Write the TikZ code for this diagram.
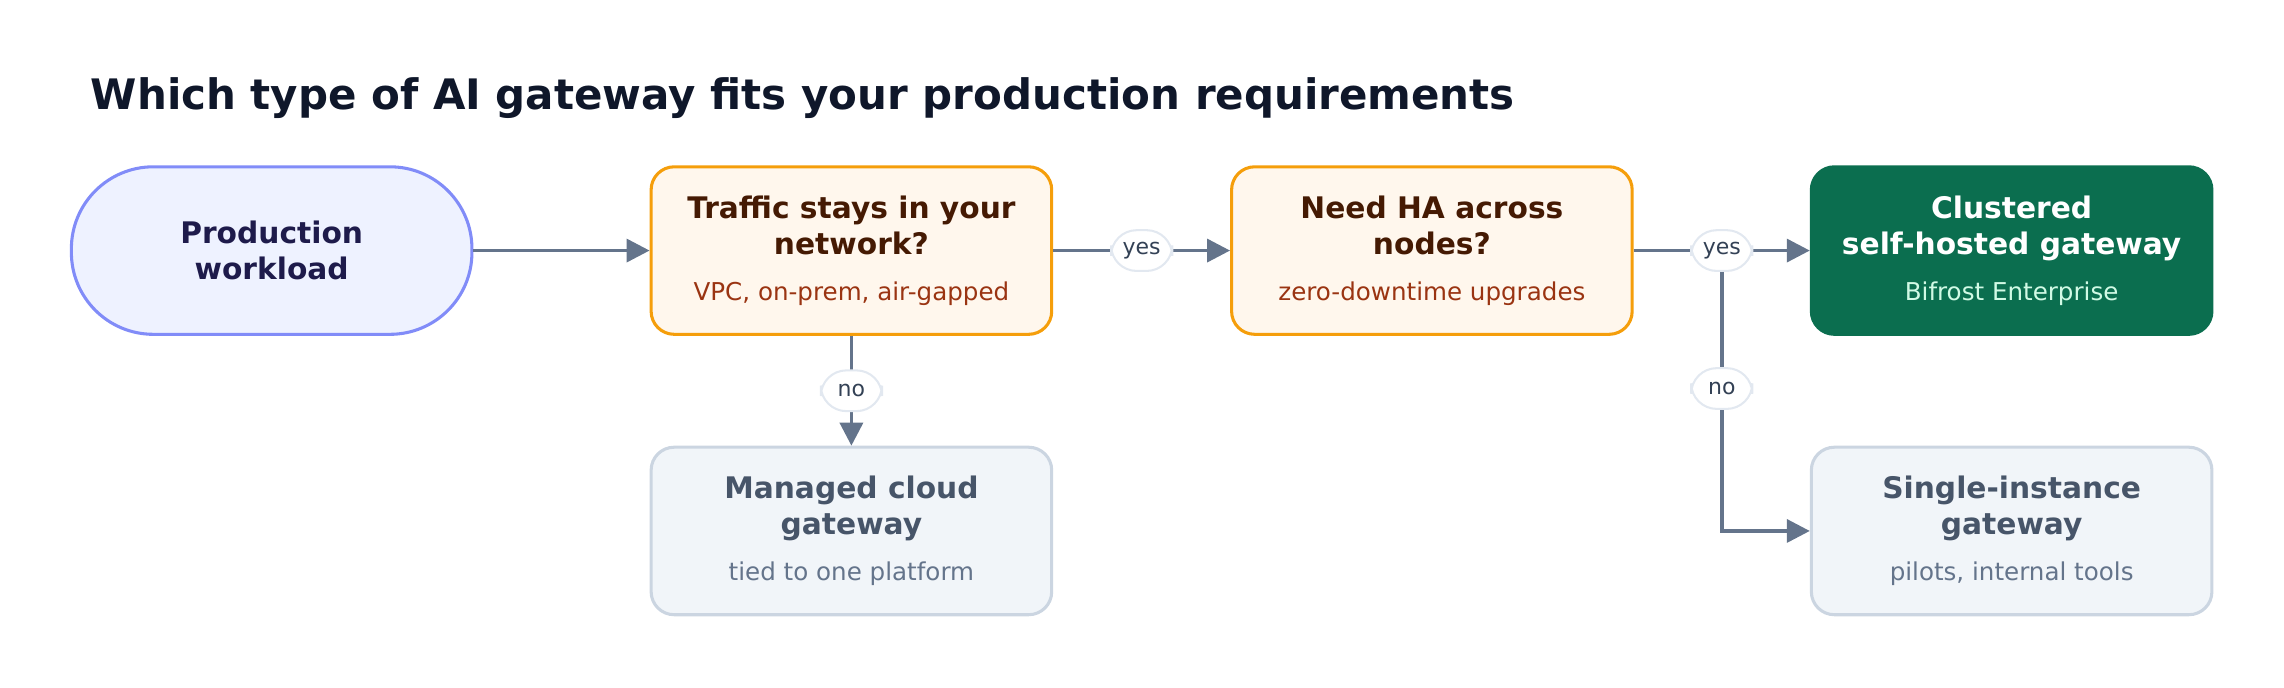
\documentclass[tikz,border=0pt]{standalone}
\usepackage{fontspec}
\setmainfont{DejaVu Sans}
\usetikzlibrary{positioning,arrows.meta}
\definecolor{edgegray}{HTML}{64748B}
\definecolor{startfill}{HTML}{EEF2FF}
\definecolor{startline}{HTML}{818CF8}
\definecolor{starttext}{HTML}{1E1B4B}
\definecolor{askfill}{HTML}{FFF7ED}
\definecolor{askline}{HTML}{F59E0B}
\definecolor{asktext}{HTML}{451A03}
\definecolor{asksub}{HTML}{9A3412}
\definecolor{winfill}{HTML}{0B6E4F}
\definecolor{winsub}{HTML}{D1FAE5}
\definecolor{altfill}{HTML}{F1F5F9}
\definecolor{altline}{HTML}{CBD5E1}
\definecolor{alttext}{HTML}{475569}
\definecolor{pillline}{HTML}{E2E8F0}
\definecolor{pilltext}{HTML}{334155}
\definecolor{titletext}{HTML}{0F172A}
\tikzset{
  box/.style={rectangle, rounded corners=4.5pt, line width=0.6pt, minimum width=2.75cm, minimum height=1.15cm, align=center, inner sep=0pt},
  start/.style={box, rounded corners=16pt, fill=startfill, draw=startline, text=starttext, font=\bfseries\fontsize{5.8}{7}\selectfont},
  ask/.style={box, fill=askfill, draw=askline},
  win/.style={box, fill=winfill, draw=winfill},
  alt/.style={box, fill=altfill, draw=altline},
  flow/.style={draw=edgegray, line width=0.7pt, -{Triangle[length=4.5pt,width=4.5pt]}},
  pill/.style={rectangle, rounded corners=5pt, fill=white, draw=pillline, line width=0.4pt, text=pilltext, font=\fontsize{4.3}{5}\selectfont, minimum width=0.42cm, minimum height=0.28cm, inner sep=1pt}
}
\newcommand{\headfont}{\bfseries\fontsize{5.8}{7}\selectfont}
\newcommand{\subfont}{\mdseries\fontsize{4.8}{6}\selectfont}
\begin{document}
\begin{tikzpicture}
\useasboundingbox (0,0) rectangle (15.68,4.72);
\node[anchor=base west, text=titletext, font=\bfseries\fontsize{8.2}{10}\selectfont] (title) at (0.5,3.97) {Which type of AI gateway fits your production requirements};

\node[start] (work) at (1.865,3.00) {Production\\workload};
\node[ask, text=asktext, font=\headfont] (stay) at (5.845,3.00) {Traffic stays in your\\network?\\[2pt]\color{asksub}\subfont VPC, on-prem, air-gapped};
\node[ask, text=asktext, font=\headfont] (ha) at (9.83,3.00) {Need HA across\\nodes?\\[2pt]\color{asksub}\subfont zero-downtime upgrades};
\node[win, text=white, font=\headfont] (clus) at (13.81,3.00) {Clustered\\self-hosted gateway\\[2pt]\color{winsub}\subfont Bifrost Enterprise};
\node[alt, text=alttext, font=\headfont] (cloud) at (5.845,1.075) {Managed cloud\\gateway\\[2pt]\color{edgegray}\subfont tied to one platform};
\node[alt, text=alttext, font=\headfont] (single) at (13.81,1.075) {Single-instance\\gateway\\[2pt]\color{edgegray}\subfont pilots, internal tools};
\coordinate (split) at (11.82,3.00);

\draw[flow] (work) -- (stay);
\draw[flow] (stay) -- node[pill] {yes} (ha);
\draw[flow] (ha) -- (clus);
\node[pill] (yes2) at (split) {yes};
\draw[flow] (stay) -- node[pill] {no} (cloud);
\draw[flow] (yes2.south) -- node[pill, pos=0.45] {no} (split |- single) -- (single);
\end{tikzpicture}
\end{document}
